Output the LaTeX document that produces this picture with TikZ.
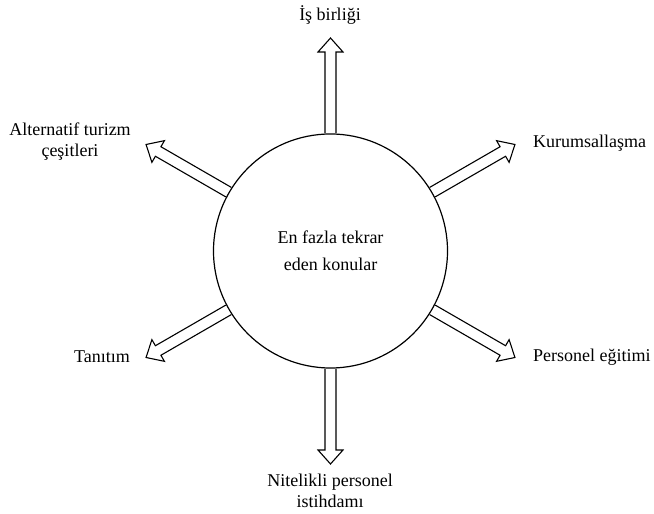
\documentclass[tikz,border=0pt]{standalone}
\usepackage{fontspec}
\setmainfont{Liberation Serif}
\usetikzlibrary{calc}

\tikzset{
  hub/.style={circle, draw, line width=1.2pt, minimum size=234pt, inner sep=0pt,
              align=center, font=\fontsize{18}{27.5}\selectfont},
  lbl/.style={font=\fontsize{18}{21}\selectfont, inner sep=0pt, align=center},
  hollow/.style={draw, line width=1.1pt, line join=miter},
}

% hollow block arrow from base #1 to tip #2
\newcommand\hollowarrow[2]{%
  \coordinate (hb) at ($(#2)!14pt!(#1)$);
  \draw[hollow]
    ($(#1)!5.5pt!90:(#2)$) -- ($(hb)!5.5pt!-90:(#1)$) --
    ($(hb)!12.5pt!-90:(#1)$) -- (#2) --
    ($(hb)!12.5pt!90:(#1)$) -- ($(hb)!5.5pt!90:(#1)$) --
    ($(#1)!5.5pt!-90:(#2)$);
}

\begin{document}
\begin{tikzpicture}[x=1pt, y=1pt]
  \useasboundingbox (0,0) rectangle (654,514);

  \node[hub] (c) at (330.5,263) {En fazla tekrar\\eden konular};

  % arrow tips around the circle
  \foreach \a/\n in {90/up, 30/ur, -30/dr, -90/dn, 210/dl, 150/ul} {
    \coordinate (b-\n) at (c.\a);
    \coordinate (t-\n) at ($(c.center)+(\a:213)$);
  }
  \foreach \n in {up, ur, dr, dn, dl, ul} {
    \hollowarrow{b-\n}{t-\n}
  }

  % labels (base = baseline of the last line)
  \node[lbl, anchor=base] (l-up) at (330,493) {İş birliği};
  \node[lbl, anchor=base west] (l-ur) at (533,366) {Kurumsallaşma};
  \node[lbl, anchor=base west] (l-dr) at (533,152.5) {Personel eğitimi};
  \node[lbl, anchor=base west] (l-dl) at (74,151.7) {Tanıtım};
  \node[lbl, anchor=base] (l-ul) at (70,357.3) {Alternatif turizm\\çeşitleri};
  \node[lbl, anchor=base] (l-dn) at (330,6.3) {Nitelikli personel\\istihdamı};
\end{tikzpicture}
\end{document}
